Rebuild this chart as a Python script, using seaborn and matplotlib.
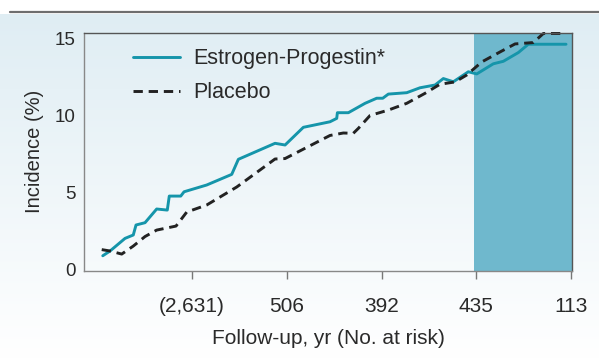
import numpy as np
import pandas as pd
import matplotlib
matplotlib.use("Agg")
import matplotlib.pyplot as plt
import seaborn as sns

# ---- data (years of follow-up, cumulative incidence %) ----
ep_years = [0.058, 0.135, 0.293, 0.380, 0.409, 0.504, 0.627, 0.739, 0.760, 0.881,
            0.916, 1.155, 1.419, 1.489, 1.876, 1.982, 2.175, 2.456, 2.527, 2.534,
            2.650, 2.826, 2.949, 3.013, 3.072, 3.266, 3.406, 3.565, 3.652, 3.758,
            3.916, 4.005, 4.180, 4.285, 4.444, 4.549, 4.947]
ep_incidence = [0.87, 1.18, 2.00, 2.22, 2.87, 3.02, 3.91, 3.84, 4.75, 4.75,
                5.03, 5.47, 6.16, 7.14, 8.18, 8.07, 9.22, 9.58, 9.80, 10.17,
                10.17, 10.78, 11.11, 11.11, 11.38, 11.47, 11.79, 11.97, 12.39, 12.18,
                12.83, 12.69, 13.35, 13.51, 14.08, 14.62, 14.62]

pl_years = [0.047, 0.135, 0.258, 0.380, 0.504, 0.627, 0.831, 0.944, 1.155, 1.472,
            1.876, 1.982, 2.456, 2.597, 2.702, 2.755, 2.879, 3.072, 3.266, 3.459,
            3.617, 3.776, 3.899, 4.058, 4.251, 4.409, 4.602, 4.708, 4.947]
pl_incidence = [1.27, 1.18, 0.98, 1.50, 2.12, 2.54, 2.80, 3.71, 4.17, 5.34,
                7.16, 7.19, 8.69, 8.85, 8.83, 9.15, 9.99, 10.34, 10.78, 11.43,
                12.02, 12.17, 12.62, 13.47, 14.12, 14.64, 14.73, 15.32, 15.32]

tick_years = [1, 2, 3, 4, 5]
tick_labels = ["(2,631)", "506", "392", "435", "113"]
y_ticks = [0, 5, 10, 15]
shade_span = (3.98, 5.02)

series_names = ["Estrogen-Progestin*", "Placebo"]

df = pd.concat([
    pd.DataFrame({"year": ep_years, "incidence": ep_incidence, "group": series_names[0]}),
    pd.DataFrame({"year": pl_years, "incidence": pl_incidence, "group": series_names[1]}),
], ignore_index=True)

sns.set_theme(style="white")
plt.rcParams["font.family"] = ["Liberation Sans", "DejaVu Sans"]

TEAL = "#1595aa"
TXT = "#2a2a2a"

fig = plt.figure(figsize=(5.99, 3.59), dpi=100)

# background gradient
bg = fig.add_axes([0, 0, 1, 1], zorder=-10)
grad = np.linspace(0, 1, 256).reshape(-1, 1)
top_c = np.array([0.875, 0.930, 0.955])
bot_c = np.array([1.0, 1.0, 1.0])
img = top_c[None, None, :] * (1 - grad[:, :, None]) + bot_c[None, None, :] * grad[:, :, None]
bg.imshow(img, aspect="auto", extent=[0, 1, 0, 1 - 14 / 359], origin="upper")
bg.set_xlim(0, 1)
bg.set_ylim(0, 1)
bg.axhline(1 - 12 / 359, xmin=10 / 599, xmax=1, color="#6e6e6e", lw=1.6)
bg.axis("off")

ax = fig.add_axes([84 / 599, 1 - 271 / 359, 488 / 599, (271 - 32.7) / 359])
ax.patch.set_alpha(0)

ax.axvspan(*shade_span, color="#6fb8cd", lw=0, zorder=0)

sns.lineplot(data=df, x="year", y="incidence", hue="group", style="group",
             palette={series_names[0]: TEAL, series_names[1]: "#222222"},
             dashes={series_names[0]: "", series_names[1]: (3.2, 2.0)},
             estimator=None, sort=False, linewidth=2.1, ax=ax, clip_on=False)

ax.set_xlim(-0.14, 5.01)
ax.set_ylim(-0.12, 15.37)
ax.set_xticks(tick_years)
ax.set_xticklabels(tick_labels)
ax.set_yticks(y_ticks)
ax.tick_params(axis="x", which="both", bottom=True, length=6, width=1, color="#777777",
               labelsize=15, labelcolor=TXT, pad=13)
ax.tick_params(axis="y", left=False, length=0, labelsize=13.5, labelcolor=TXT, pad=6)
for s in ax.spines.values():
    s.set_visible(True)
    s.set_color("#555555")
    s.set_linewidth(1.0)
ax.spines["left"].set_color("#888888")
ax.spines["bottom"].set_color("#888888")

ax.set_xlabel("Follow-up, yr (No. at risk)", fontsize=15, color=TXT, labelpad=9)
ax.set_ylabel("Incidence (%)", fontsize=14.5, color=TXT, labelpad=8)

handles, labels = ax.get_legend_handles_labels()
ax.legend(handles=handles, labels=labels, loc="upper left",
          bbox_to_anchor=(0.1, 0.935), frameon=False, fontsize=15.5,
          handlelength=2.2, handletextpad=0.6, labelspacing=0.6,
          borderpad=0, borderaxespad=0, labelcolor=TXT)
for lh in ax.get_legend().get_lines():
    lh.set_linewidth(2.1)

fig.savefig("out.png", dpi=100)
